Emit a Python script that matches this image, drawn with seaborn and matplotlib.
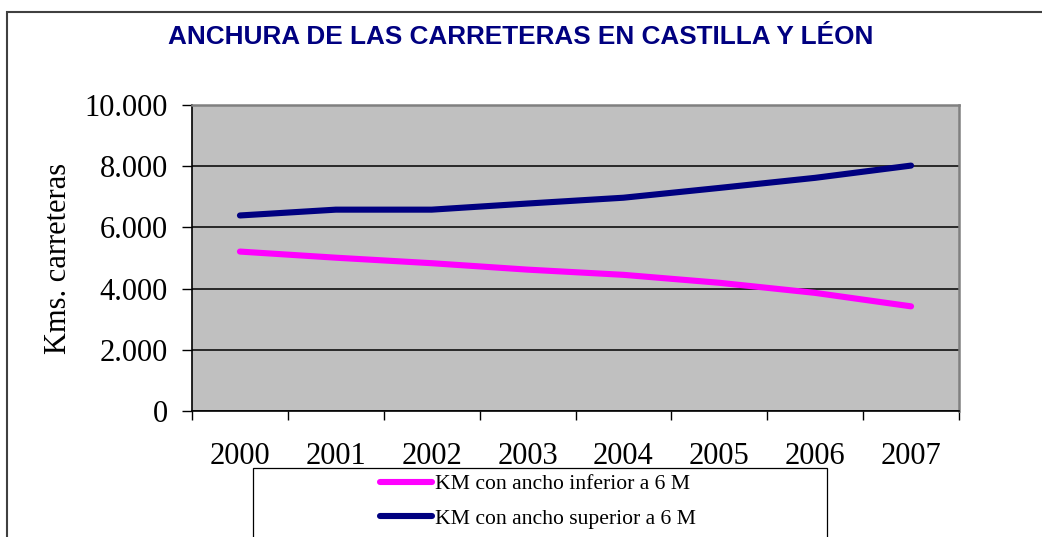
import matplotlib
matplotlib.use("Agg")
import matplotlib.pyplot as plt
from matplotlib.patches import Rectangle
from matplotlib.lines import Line2D
from matplotlib.ticker import FixedLocator, FixedFormatter
import seaborn as sns
import pandas as pd

# ---- data ----
years = ["2000", "2001", "2002", "2003", "2004", "2005", "2006", "2007"]
km_inferior = [5210, 5010, 4830, 4620, 4450, 4190, 3860, 3420]
km_superior = [6390, 6580, 6580, 6780, 6970, 7290, 7620, 8020]
series_names = ["KM con ancho inferior a 6 M", "KM con ancho superior a 6 M"]
ytick_values = [0, 2000, 4000, 6000, 8000, 10000]
ytick_labels = ["0", "2.000", "4.000", "6.000", "8.000", "10.000"]
title = "ANCHURA DE LAS CARRETERAS EN CASTILLA Y LÉON"
ylabel = "Kms. carreteras"

colors = ["#FF00FF", "#000080"]

df = pd.DataFrame({
    "year": years * 2,
    "km": km_inferior + km_superior,
    "serie": [series_names[0]] * len(years) + [series_names[1]] * len(years),
})

sns.set_theme(style="white")
plt.rcParams["font.family"] = ["Liberation Serif", "DejaVu Serif"]
plt.rcParams["text.color"] = "black"

W, H = 1042, 537
fig = plt.figure(figsize=(W / 100, H / 100), dpi=100)
fig.patch.set_facecolor("white")

x0, x1, y0, y1 = 192, 959, 105, 411
ax = fig.add_axes([x0 / W, 1 - y1 / H, (x1 - x0) / W, (y1 - y0) / H])
ax.set_facecolor("#C0C0C0")

sns.lineplot(data=df, x="year", y="km", hue="serie", palette=colors,
             hue_order=series_names, lw=4.4, ax=ax, legend=False, sort=False)
for ln in ax.get_lines():
    ln.set_solid_capstyle("round")
    ln.set_solid_joinstyle("round")

ax.set_xlim(-0.5, len(years) - 0.5)
ax.set_ylim(0, 10000)

# y axis
ax.yaxis.set_major_locator(FixedLocator(ytick_values))
ax.yaxis.set_major_formatter(FixedFormatter(ytick_labels))
ax.tick_params(axis="y", which="major", direction="out", length=7.2, width=1,
               color="black", left=True, labelsize=22, pad=10, labelcolor="black")
ax.grid(axis="y", color="black", lw=1.1)
ax.set_axisbelow(True)

# x axis: ticks at category boundaries, labels at centers
ax.xaxis.set_major_locator(FixedLocator([i - 0.5 for i in range(len(years) + 1)]))
ax.xaxis.set_major_formatter(FixedFormatter([""] * (len(years) + 1)))
ax.xaxis.set_minor_locator(FixedLocator(list(range(len(years)))))
ax.xaxis.set_minor_formatter(FixedFormatter(years))
ax.tick_params(axis="x", which="major", direction="out", length=6.5, width=1,
               color="black", bottom=True)
ax.tick_params(axis="x", which="minor", length=0, labelsize=22, pad=22,
               labelcolor="black", bottom=True)
ax.set_xlabel("")

ax.set_ylabel(ylabel, fontsize=22, color="black")
ax.yaxis.set_label_coords(-0.155, 0.5)

for side in ["left", "bottom"]:
    ax.spines[side].set_color("#000000")
    ax.spines[side].set_linewidth(1.2)
for side in ["top", "right"]:
    ax.spines[side].set_color("#808080")
    ax.spines[side].set_linewidth(1.8)
    ax.spines[side].set_visible(True)

# title
fig.text(521 / W, 1 - 37 / H, title, ha="center", va="center",
         fontsize=18.8, fontweight="bold", color="#000080",
         family=["Liberation Sans", "DejaVu Sans"])

# outer chart frame
fig.patches.append(Rectangle((7 / W, -0.2), 1.2, 1.2 - 11.7 / H,
                             transform=fig.transFigure, fill=False,
                             edgecolor="#404040", lw=1.5))

# legend box
fig.patches.append(Rectangle((253 / W, -0.2), (827 - 253) / W, 0.2 + 1 - 468 / H,
                             transform=fig.transFigure, facecolor="white",
                             edgecolor="black", lw=0.9, zorder=3))
handles = [Line2D([0], [0], color=c, lw=4.4, solid_capstyle="round") for c in colors]
leg = fig.legend(handles, series_names, loc="upper left",
                 bbox_to_anchor=(380 / W, 1 - 474 / H), frameon=False,
                 prop={"family": ["Liberation Serif", "DejaVu Serif"], "size": 15.6},
                 handlelength=2.4, handletextpad=0.15,
                 labelspacing=0.66, borderpad=0, borderaxespad=0,
                 labelcolor="black")
leg.set_zorder(4)

fig.savefig("out.png", dpi=100)
